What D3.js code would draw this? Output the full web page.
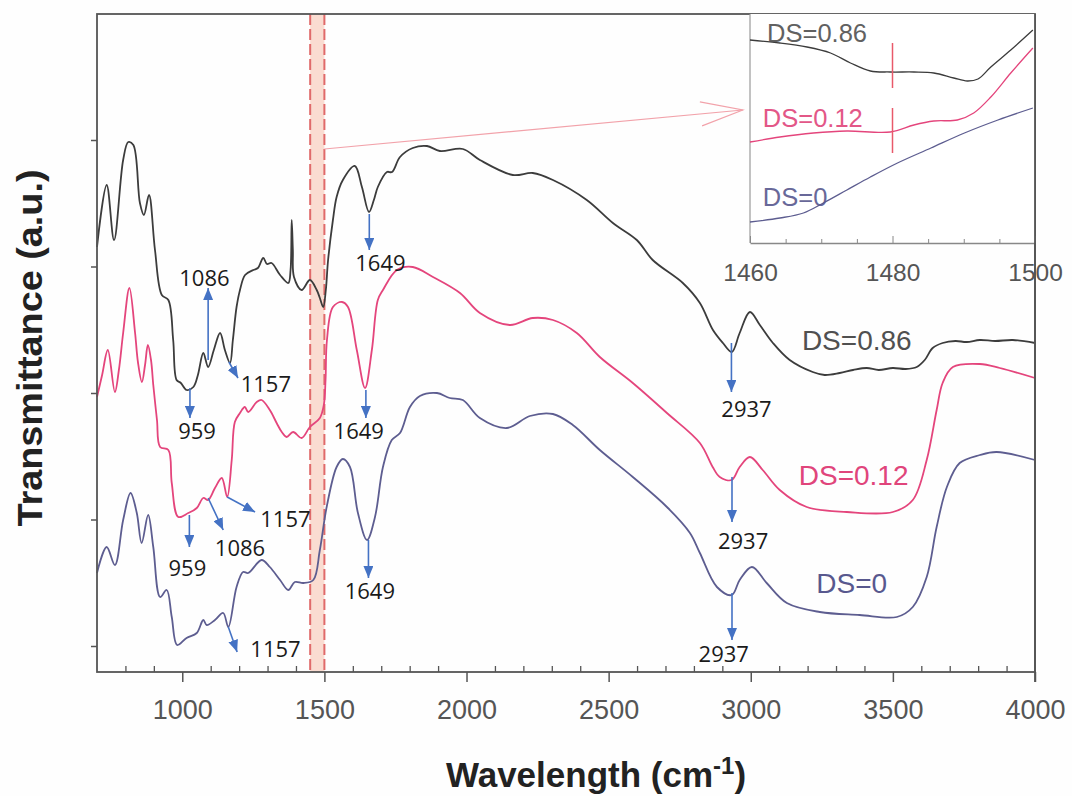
<!DOCTYPE html>
<html>
<head>
<meta charset="utf-8">
<script src="https://cdnjs.cloudflare.com/ajax/libs/d3/7.8.5/d3.min.js"></script>
<style>
  body { margin: 0; background: #fff; }
  svg { display: block; }
</style>
</head>
<body>
<svg id="chart" width="1072" height="796"></svg>
<script>
// ---- data (wavenumber cm-1, transmittance a.u. with vertical offsets) ----
const ds086 = [[700,4.25],[734,4.87],[760,4.32],[792,5.12],[810,5.30],[828,5.27],[851,4.69],[865,4.57],[883,4.77],[904,4.22],[928,3.77],[951,3.72],[968,3.32],[980,2.92],[995,2.89],[1015,2.82],[1039,2.85],[1055,2.97],[1074,3.19],[1091,3.05],[1111,3.22],[1133,3.39],[1150,3.22],[1168,3.09],[1178,3.32],[1191,3.65],[1203,3.82],[1221,3.97],[1250,4.02],[1266,4.04],[1285,4.14],[1298,4.08],[1314,4.09],[1344,3.97],[1373,3.89],[1381,4.02],[1385,4.52],[1389,4.22],[1393,3.95],[1420,3.82],[1449,3.92],[1473,3.82],[1484,3.74],[1496,3.65],[1505,3.82],[1513,4.12],[1530,4.52],[1543,4.75],[1565,4.92],[1607,5.06],[1632,4.85],[1657,4.60],[1674,4.72],[1688,4.85],[1720,5.00],[1738,5.00],[1766,5.15],[1811,5.24],[1861,5.26],[1906,5.21],[1987,5.23],[2047,5.12],[2163,4.97],[2233,4.99],[2304,4.92],[2423,4.72],[2515,4.49],[2599,4.32],[2655,4.12],[2761,3.89],[2821,3.69],[2867,3.42],[2902,3.29],[2933,3.20],[2961,3.39],[2997,3.60],[3032,3.47],[3078,3.29],[3137,3.12],[3218,3.00],[3260,2.97],[3313,2.99],[3360,3.02],[3408,3.04],[3450,3.02],[3500,3.04],[3545,3.03],[3584,3.05],[3612,3.12],[3640,3.24],[3675,3.29],[3720,3.31],[3760,3.30],[3806,3.32],[3860,3.31],[3922,3.32],[4000,3.29]];

const ds012 = [[700,2.75],[718,2.97],[738,3.22],[763,2.80],[777,3.02],[792,3.39],[814,3.84],[834,3.39],[844,3.10],[858,2.90],[869,3.07],[879,3.27],[890,3.12],[898,2.87],[911,2.52],[922,2.25],[951,2.22],[963,1.89],[986,1.55],[1021,1.59],[1051,1.64],[1074,1.74],[1091,1.72],[1115,1.84],[1139,1.94],[1158,1.75],[1174,2.12],[1185,2.50],[1203,2.59],[1220,2.65],[1232,2.60],[1262,2.70],[1279,2.72],[1308,2.62],[1332,2.49],[1350,2.40],[1367,2.35],[1390,2.40],[1420,2.34],[1449,2.45],[1484,2.54],[1498,2.67],[1504,2.92],[1509,3.32],[1530,3.65],[1562,3.70],[1583,3.65],[1614,3.22],[1643,2.84],[1667,3.22],[1688,3.72],[1706,3.82],[1755,4.02],[1811,4.05],[1882,3.95],[1977,3.79],[2047,3.59],[2152,3.47],[2233,3.54],[2304,3.52],[2388,3.39],[2469,3.15],[2585,2.89],[2705,2.59],[2821,2.29],[2866,2.05],[2891,1.95],[2933,1.92],[2961,2.05],[2997,2.15],[3042,2.02],[3102,1.82],[3197,1.65],[3338,1.60],[3500,1.60],[3570,1.72],[3619,2.12],[3654,2.62],[3675,2.89],[3711,3.05],[3806,3.08],[3876,3.04],[4000,2.94]];

const ds000 = [[700,0.99],[734,1.25],[763,1.07],[792,1.52],[818,1.79],[840,1.59],[857,1.29],[880,1.57],[898,1.25],[922,0.75],[945,0.82],[963,0.55],[982,0.27],[1015,0.34],[1051,0.39],[1074,0.52],[1086,0.47],[1115,0.52],[1144,0.59],[1162,0.45],[1191,0.85],[1214,1.00],[1232,0.99],[1279,1.12],[1308,1.05],[1344,0.92],[1373,0.82],[1396,0.90],[1426,0.89],[1461,0.92],[1484,1.22],[1508,1.65],[1543,2.05],[1565,2.13],[1590,2.05],[1618,1.59],[1650,1.32],[1678,1.55],[1706,2.05],[1737,2.32],[1766,2.39],[1801,2.65],[1836,2.76],[1896,2.79],[1941,2.74],[1987,2.72],[2047,2.54],[2142,2.44],[2223,2.56],[2304,2.58],[2374,2.47],[2469,2.22],[2585,1.95],[2705,1.65],[2786,1.39],[2821,1.19],[2881,0.85],[2933,0.77],[2961,0.92],[3004,1.05],[3056,0.89],[3127,0.69],[3243,0.60],[3383,0.57],[3514,0.55],[3570,0.65],[3619,0.95],[3654,1.45],[3690,1.85],[3735,2.09],[3806,2.17],[3865,2.20],[4000,2.12]];

// inset (1460-1500 cm-1)
const inset086 = [[1460,2.03],[1464.2,2.00],[1468,1.96],[1471.3,1.90],[1474.1,1.80],[1476.9,1.72],[1479.7,1.71],[1483,1.71],[1485.8,1.70],[1488.6,1.65],[1490.5,1.62],[1492,1.64],[1493.8,1.76],[1496.6,1.93],[1499.7,2.13]];
const inset012 = [[1460,1.01],[1464.2,1.06],[1468.9,1.10],[1473.6,1.12],[1479.7,1.11],[1483,1.18],[1485.8,1.22],[1489.1,1.23],[1491.4,1.30],[1493.8,1.46],[1496.6,1.70],[1499.7,1.95]];
const inset000 = [[1460,0.21],[1464.2,0.25],[1467.5,0.30],[1470.3,0.40],[1473.6,0.53],[1476.9,0.66],[1480.7,0.80],[1485.4,0.95],[1490.1,1.10],[1494.8,1.23],[1499.7,1.35]];
const insetMarks = [[1480,1.55,2.00],[1480,0.90,1.35]];

const xTicks = [1000,1500,2000,2500,3000,3500,4000];
const yTicks = [0.26,1.525,2.79,4.055,5.32];
const insetTicks = [1460,1480,1500];
const band = [1450,1500];

const peakArrows = [
  {label:"959",  from:[1027,2.84], to:[1027,2.54], at:[1052,2.42]},
  {label:"1086", from:[1091,3.12], to:[1091,3.84], at:[1078,3.95]},
  {label:"1157", from:[1164,3.10], to:[1196,2.94], at:[1294,2.89]},
  {label:"1649", from:[1658,4.58], to:[1658,4.22], at:[1697,4.10]},
  {label:"2937", from:[2932,3.29], to:[2932,2.80], at:[2985,2.64]},
  {label:"959",  from:[1025,1.57], to:[1025,1.25], at:[1018,1.05]},
  {label:"1086", from:[1091,1.74], to:[1144,1.42], at:[1203,1.25]},
  {label:"1157", from:[1158,1.75], to:[1256,1.60], at:[1363,1.54]},
  {label:"1649", from:[1646,2.82], to:[1646,2.54], at:[1621,2.42]},
  {label:"2937", from:[2934,1.95], to:[2934,1.50], at:[2973,1.32]},
  {label:"1157", from:[1162,0.45], to:[1193,0.20], at:[1328,0.24]},
  {label:"1649", from:[1655,1.32], to:[1655,0.94], at:[1660,0.82]},
  {label:"2937", from:[2934,0.79], to:[2934,0.32], at:[2905,0.19]}
];

const series = [
  {name:"DS=0.86", data:ds086, inset:inset086, color:"#3c3c3c", text:"#505050", at:[3373,3.32], insetAt:[1462.4,2.10]},
  {name:"DS=0.12", data:ds012, inset:inset012, color:"#e4457c", text:"#e0457b", at:[3362,1.97], insetAt:[1461.8,1.25]},
  {name:"DS=0",    data:ds000, inset:inset000, color:"#5d5d90", text:"#58588e", at:[3355,0.89], insetAt:[1461.8,0.46]}
];

const zoomLink = {from:[1500,5.23], to:[2972,5.62]};

// ---- layout ----
const svg = d3.select("#chart");
svg.append("rect").attr("width",1072).attr("height",796).attr("fill","#fefefe");

const x = d3.scaleLinear().domain([700,4000]).range([97,1035]);
const y = d3.scaleLinear().domain([0,6.58]).range([672,14]);

const defs = svg.append("defs");
defs.append("marker")
  .attr("id","tri").attr("viewBox","0 0 12 10")
  .attr("refX",12).attr("refY",5)
  .attr("markerWidth",12).attr("markerHeight",10)
  .attr("markerUnits","userSpaceOnUse").attr("orient","auto")
  .append("path").attr("d","M0,0 L12,5 L0,10 Z").attr("fill","#4472c4");
defs.append("marker")
  .attr("id","chev").attr("viewBox","-44 -14 46 28")
  .attr("refX",0).attr("refY",0)
  .attr("markerWidth",46).attr("markerHeight",28)
  .attr("markerUnits","userSpaceOnUse").attr("orient","auto")
  .append("path").attr("d","M-42,-12 L0,0 L-42,12")
  .attr("fill","none").attr("stroke","#f2a2aa").attr("stroke-width",1.2);

// highlighted band
svg.append("rect")
  .attr("x",x(band[0])).attr("y",y(6.58))
  .attr("width",x(band[1])-x(band[0])).attr("height",y(0)-y(6.58))
  .attr("fill","#f8c9b8").attr("opacity",0.65);
svg.selectAll(".bandline").data(band).join("line")
  .attr("x1",d=>x(d)).attr("x2",d=>x(d))
  .attr("y1",y(6.58)).attr("y2",y(0))
  .attr("stroke","#e06a6a").attr("stroke-width",2)
  .attr("stroke-dasharray","11,4");

// curves
const line = d3.line().x(d=>x(d[0])).y(d=>y(d[1])).curve(d3.curveCatmullRom.alpha(0.5));
svg.selectAll(".curve").data(series).join("path")
  .attr("d",d=>line(d.data))
  .attr("fill","none").attr("stroke",d=>d.color)
  .attr("stroke-width",1.8).attr("stroke-linejoin","round");

// axes
const xAxis = svg.append("g").attr("transform",`translate(0,${y(0)})`)
  .call(d3.axisBottom(x).tickValues(xTicks).tickSize(10).tickSizeOuter(0).tickPadding(18).tickFormat(d3.format("d")));
xAxis.select(".domain").remove();
xAxis.selectAll("line").attr("stroke","#555").attr("stroke-width",1.5);
xAxis.selectAll("text").attr("fill","#555")
  .style("font-family","'Liberation Sans', Arial, sans-serif").style("font-size","27px");

const minorX = svg.append("g").attr("transform",`translate(0,${y(0)})`)
  .call(d3.axisBottom(x).tickValues(d3.range(800,4000,100).filter(v=>v%500!==0)).tickSize(-6).tickSizeOuter(0).tickFormat(""));
minorX.select(".domain").remove();
minorX.selectAll("line").attr("stroke","#555").attr("stroke-width",1.3);

const yAxis = svg.append("g").attr("transform",`translate(${x(700)},0)`)
  .call(d3.axisLeft(y).tickValues(yTicks).tickSize(6).tickSizeOuter(0).tickFormat(""));
yAxis.select(".domain").remove();
yAxis.selectAll("line").attr("stroke","#555").attr("stroke-width",1.5);

svg.append("rect")
  .attr("x",x(700)).attr("y",y(6.58))
  .attr("width",x(4000)-x(700)).attr("height",y(0)-y(6.58))
  .attr("fill","none").attr("stroke","#555").attr("stroke-width",1.8);

// peak arrows and labels
svg.selectAll(".arrow").data(peakArrows).join("line")
  .attr("x1",d=>x(d.from[0])).attr("y1",d=>y(d.from[1]))
  .attr("x2",d=>x(d.to[0])).attr("y2",d=>y(d.to[1]))
  .attr("stroke","#4472c4").attr("stroke-width",1.6)
  .attr("marker-end","url(#tri)");
svg.selectAll(".peak").data(peakArrows).join("text")
  .attr("x",d=>x(d.at[0])).attr("y",d=>y(d.at[1]))
  .attr("text-anchor","middle").attr("dominant-baseline","central")
  .attr("fill","#1a1a1a")
  .style("font-family","'Open Sans', 'Noto Sans', sans-serif").style("font-size","22px")
  .text(d=>d.label);

// series labels
svg.selectAll(".slabel").data(series).join("text")
  .attr("x",d=>x(d.at[0])).attr("y",d=>y(d.at[1]))
  .attr("text-anchor","middle").attr("dominant-baseline","central")
  .attr("fill",d=>d.text)
  .style("font-family","'Liberation Sans', Arial, sans-serif").style("font-size","28px")
  .text(d=>d.name);

// zoom link line
svg.append("line")
  .attr("x1",x(zoomLink.from[0])).attr("y1",y(zoomLink.from[1]))
  .attr("x2",x(zoomLink.to[0])).attr("y2",y(zoomLink.to[1]))
  .attr("stroke","#f2a2aa").attr("stroke-width",1.2)
  .attr("marker-end","url(#chev)");

// ---- inset ----
const xi = d3.scaleLinear().domain([1460,1500]).range([750,1035]);
const yi = d3.scaleLinear().domain([0,2.29]).range([243,14]);
const inset = svg.append("g");
inset.append("rect")
  .attr("x",xi(1460)).attr("y",yi(2.29))
  .attr("width",xi(1500)-xi(1460)).attr("height",yi(0)-yi(2.29))
  .attr("fill","#fff");
inset.append("line")
  .attr("x1",xi(1460)).attr("x2",xi(1460)).attr("y1",yi(2.29)).attr("y2",yi(0))
  .attr("stroke","#999").attr("stroke-width",1.2);

const lineI = d3.line().x(d=>xi(d[0])).y(d=>yi(d[1])).curve(d3.curveCatmullRom.alpha(0.5));
inset.selectAll(".icurve").data(series).join("path")
  .attr("d",d=>lineI(d.inset))
  .attr("fill","none").attr("stroke",d=>d.color).attr("stroke-width",1.3);

inset.selectAll(".imark").data(insetMarks).join("line")
  .attr("x1",d=>xi(d[0])).attr("x2",d=>xi(d[0]))
  .attr("y1",d=>yi(d[1])).attr("y2",d=>yi(d[2]))
  .attr("stroke","#e8596a").attr("stroke-width",1.5);

inset.selectAll(".ilabel").data(series).join("text")
  .attr("x",d=>xi(d.insetAt[0])).attr("y",d=>yi(d.insetAt[1]))
  .attr("dominant-baseline","central")
  .attr("fill",d=>d.text).attr("opacity",0.9)
  .style("font-family","'Liberation Sans', Arial, sans-serif").style("font-size","25.5px")
  .text(d=>d.name);

const xiAxis = inset.append("g").attr("transform",`translate(0,${yi(0)})`)
  .call(d3.axisBottom(xi).tickValues(insetTicks).tickSize(-7).tickSizeOuter(0).tickPadding(21).tickFormat(d3.format("d")));
xiAxis.select(".domain").attr("stroke","#888").attr("stroke-width",1.4);
xiAxis.selectAll("line").attr("stroke","#888");
xiAxis.selectAll("text").attr("fill","#555")
  .style("font-family","'Liberation Sans', Arial, sans-serif").style("font-size","24.5px");
const xiMinor = inset.append("g").attr("transform",`translate(0,${yi(0)})`)
  .call(d3.axisBottom(xi).tickValues([1465,1470,1475,1485,1490,1495]).tickSize(-4).tickSizeOuter(0).tickFormat(""));
xiMinor.select(".domain").remove();
xiMinor.selectAll("line").attr("stroke","#888");

// redraw the right frame edge over the inset
svg.append("line")
  .attr("x1",x(4000)).attr("x2",x(4000)).attr("y1",y(6.58)).attr("y2",y(0)+10)
  .attr("stroke","#555").attr("stroke-width",1.8);

// ---- titles ----
svg.append("text")
  .attr("transform",`translate(42,348) rotate(-90)`)
  .attr("text-anchor","middle")
  .attr("textLength",357).attr("lengthAdjust","spacingAndGlyphs")
  .attr("fill","#222")
  .style("font-family","'Liberation Sans', Arial, sans-serif").style("font-size","35px").style("font-weight","bold")
  .text("Transmittance (a.u.)");

const xt = svg.append("text")
  .attr("x",596).attr("y",787)
  .attr("text-anchor","middle")
  .attr("fill","#222")
  .style("font-family","'Liberation Sans', Arial, sans-serif").style("font-size","35px").style("font-weight","bold");
xt.append("tspan").text("Wavelength (cm");
xt.append("tspan").attr("dy",-13).style("font-size","24px").text("-1");
xt.append("tspan").attr("dy",13).text(")");
</script>
</body>
</html>
